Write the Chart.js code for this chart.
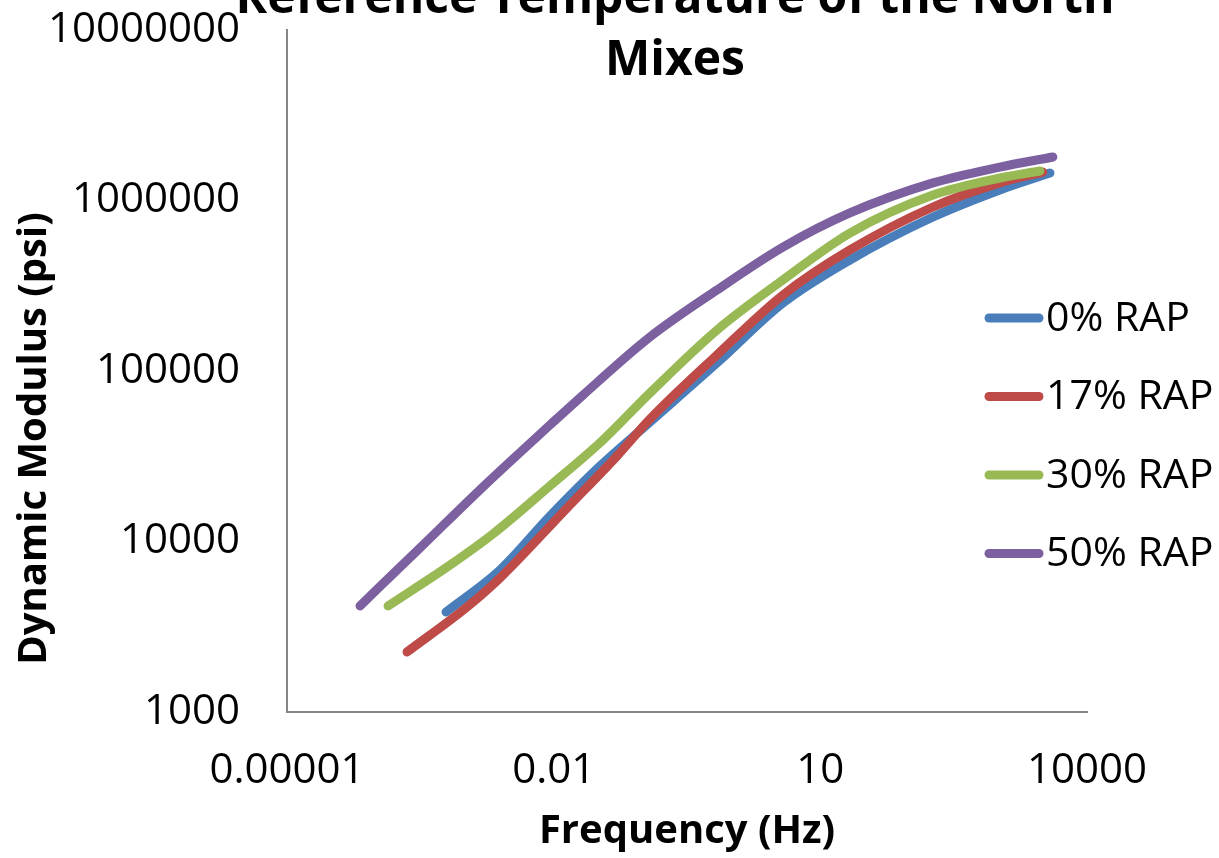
<!DOCTYPE html>
<html>
<head>
<meta charset="utf-8">
<script src="https://cdn.jsdelivr.net/npm/chart.js@4.4.1/dist/chart.umd.min.js"></script>
<style>
  html, body { margin: 0; padding: 0; background: #fff; }
  #wrap { width: 1219px; height: 858px; overflow: hidden; }
</style>
</head>
<body>
<div id="wrap"><canvas id="chart" width="1219" height="858"></canvas></div>
<script>
// Dynamic modulus master curves, log-log
const TITLE_LINES = ['Reference Temperature of the North', 'Mixes'];
const SERIES_LABELS = ['0% RAP', '17% RAP', '30% RAP', '50% RAP'];
const SERIES_COLORS = ['#4A7EBB', '#BE4B48', '#98B954', '#7D60A0'];

// frequency (Hz) / modulus (psi)
const freq0 = [0.000615, 0.00249, 0.00908, 0.0332, 0.121, 0.687, 3.8, 21.5, 185, 1047, 3830];
const mod0 = [3860, 6810, 14100, 27700, 50200, 111400, 250600, 447700, 800000, 1153000, 1449000];

const freq17 = [0.000224, 0.00106, 0.00249, 0.0141, 0.0515, 0.121, 0.687, 3.8, 21.5, 185, 1047, 3190];
const mod17 = [2250, 4130, 6110, 15700, 31700, 52200, 124200, 279300, 512900, 916000, 1268000, 1469000];

const freq30 = [0.000137, 0.000683, 0.00207, 0.00908, 0.0359, 0.121, 0.687, 3.8, 21.5, 185, 1047, 2950];
const mod30 = [4190, 7280, 11070, 21200, 39400, 74300, 173800, 342000, 644000, 1076000, 1355000, 1489000];

const freq50 = [0.0000662, 0.000313, 0.0016, 0.00908, 0.0214, 0.121, 0.687, 3.8, 21.5, 185, 1047, 4130];
const mod50 = [4190, 9160, 20900, 48200, 72300, 158200, 298500, 533000, 845000, 1268000, 1570000, 1799000];

const X_TICKS = [0.00001, 0.01, 10, 10000];
const X_TICK_LABELS = ['0.00001', '0.01', '10', '10000'];
const Y_TICKS = [1000, 10000, 100000, 1000000, 10000000];
const Y_TICK_LABELS = ['1000', '10000', '100000', '1000000', '10000000'];

const FONT = "'Open Sans', sans-serif";

function toPoints(xs, ys) {
  return xs.map((x, i) => ({ x: x, y: ys[i] }));
}

const seriesData = [
  toPoints(freq0, mod0),
  toPoints(freq17, mod17),
  toPoints(freq30, mod30),
  toPoints(freq50, mod50),
];

// Excel overlays its title and legend on the plot, so both are drawn here
// instead of taking layout space
const overlayText = {
  id: 'overlayText',
  afterDraw(chart) {
    const ctx = chart.ctx;
    ctx.save();

    // title, first line runs off the top edge
    ctx.fillStyle = '#000';
    ctx.font = 'bold 48px ' + FONT;
    ctx.textAlign = 'center';
    ctx.textBaseline = 'alphabetic';
    TITLE_LINES.forEach((line, i) => {
      ctx.fillText(line, 675, 13 + i * 62);
    });

    // legend
    ctx.font = '41px ' + FONT;
    ctx.textBaseline = 'middle';
    ctx.textAlign = 'left';
    chart.data.datasets.forEach((ds, i) => {
      const y = 318 + i * 78.5;
      ctx.strokeStyle = ds.borderColor;
      ctx.lineWidth = 9;
      ctx.lineCap = 'round';
      ctx.beginPath();
      ctx.moveTo(989, y);
      ctx.lineTo(1039, y);
      ctx.stroke();
      ctx.fillStyle = '#000';
      ctx.fillText(ds.label, 1046, y + 1);
    });
    ctx.restore();
  }
};

const ctx = document.getElementById('chart');

new Chart(ctx, {
  type: 'scatter',
  data: {
    datasets: seriesData.map((pts, i) => ({
      label: SERIES_LABELS[i],
      data: pts,
      showLine: true,
      borderColor: SERIES_COLORS[i],
      backgroundColor: SERIES_COLORS[i],
      borderWidth: 9,
      borderCapStyle: 'round',
      borderJoinStyle: 'round',
      cubicInterpolationMode: 'monotone',
      pointRadius: 0,
      pointHoverRadius: 0,
      order: SERIES_LABELS.length - i,
    })),
  },
  options: {
    responsive: false,
    animation: false,
    layout: {
      padding: { left: 0, right: 132, top: 30, bottom: 0 },
    },
    plugins: {
      legend: { display: false },
      tooltip: { enabled: false },
      title: { display: false },
    },
    scales: {
      x: {
        type: 'logarithmic',
        min: 0.00001,
        max: 10000,
        afterFit: (scale) => {
          scale.height = 146;
          scale.paddingLeft = 0;
          scale.paddingRight = 0;
        },
        afterBuildTicks: (scale) => {
          scale.ticks = X_TICKS.map(v => ({ value: v }));
        },
        grid: { display: false, drawTicks: false, tickLength: 0 },
        border: { display: true, color: '#868686', width: 2 },
        ticks: {
          color: '#000',
          padding: 34,
          maxRotation: 0,
          autoSkip: false,
          font: { family: FONT, size: 42 },
          callback: (value, index) => X_TICK_LABELS[index],
        },
        title: {
          display: true,
          text: 'Frequency (Hz)',
          color: '#000',
          font: { family: FONT, size: 40, weight: 'bold' },
          padding: { top: 0, bottom: 2 },
        },
      },
      y: {
        type: 'logarithmic',
        min: 1000,
        max: 10000000,
        afterFit: (scale) => {
          scale.width = 287;
          scale.paddingTop = 0;
          scale.paddingBottom = 0;
        },
        afterBuildTicks: (scale) => {
          scale.ticks = Y_TICKS.map(v => ({ value: v }));
        },
        grid: { display: false, drawTicks: false, tickLength: 0 },
        border: { display: true, color: '#868686', width: 2 },
        ticks: {
          color: '#000',
          padding: 47,
          autoSkip: false,
          font: { family: FONT, size: 42 },
          callback: (value, index) => Y_TICK_LABELS[index],
        },
        title: {
          display: true,
          // trailing spaces push the label down the axis as in the original
          text: 'Dynamic Modulus (psi)' + '\u00a0'.repeat(13),
          color: '#000',
          font: { family: FONT, size: 40, weight: 'bold' },
          padding: { top: 11, bottom: 0 },
        },
      },
    },
  },
  plugins: [overlayText],
});
</script>
</body>
</html>
